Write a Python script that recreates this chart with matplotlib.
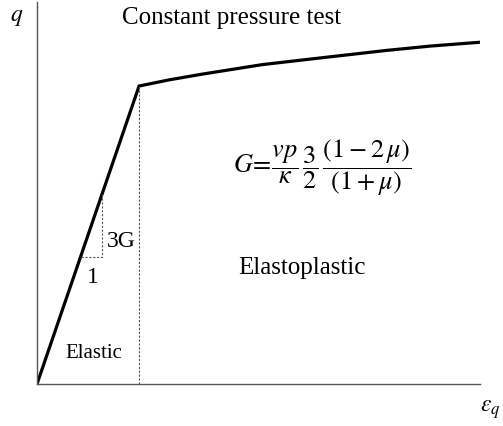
import matplotlib.pyplot as plt
import numpy as np

# stress path: shear strain vs deviatoric stress (normalised to the yield point)
eps_q = [0.0, 1.0, 1.30, 1.62, 2.21, 2.82, 3.41, 3.85, 4.34]
q = [0.0, 1.0, 1.021, 1.040, 1.072, 1.096, 1.119, 1.134, 1.147]

# slope triangle on the elastic branch
tri_eps = [0.43, 0.64, 0.64]
tri_q = [0.426, 0.426, 0.64]

plt.rcParams['font.family'] = ['Liberation Serif', 'DejaVu Serif']
plt.rcParams['mathtext.fontset'] = 'stix'

fig = plt.figure(figsize=(5.03, 4.27), dpi=100)
ax = fig.add_axes([37/503, 42/427, 443/503, 382/427])

ax.plot(eps_q, q, color='black', lw=2.3, solid_joinstyle='miter')
ax.plot([eps_q[1], eps_q[1]], [0, q[1]], color='#555555', lw=0.8, ls=(0, (2, 1.5)))
ax.plot(tri_eps, tri_q, color='#555555', lw=0.8, ls=(0, (2, 1.5)))

ax.set_xlim(0, 4.34)
ax.set_ylim(0, 1.282)
ax.set_xticks([])
ax.set_yticks([])
for s in ['top', 'right']:
    ax.spines[s].set_visible(False)
for s in ['left', 'bottom']:
    ax.spines[s].set_color('#555555')
    ax.spines[s].set_linewidth(1.0)

def px(x, y):
    return x/503, 1 - y/427

fig.text(*px(17, 17), r'$q$', fontsize=17, ha='center', va='center')
fig.text(*px(490, 410), r'$\varepsilon_q$', fontsize=17, ha='center', va='center')
fig.text(*px(232, 18), 'Constant pressure test', fontsize=18, ha='center', va='center')
fig.text(*px(322, 168), r'$G\!=\!\dfrac{vp}{\kappa}\,\dfrac{3}{2}\,\dfrac{(1-2\,\mu)}{(1+\mu)}$',
         fontsize=19, ha='center', va='center')
fig.text(*px(302, 268), 'Elastoplastic', fontsize=18, ha='center', va='center')
fig.text(*px(94, 353), 'Elastic', fontsize=15, ha='center', va='center')
fig.text(*px(121, 242), '3G', fontsize=17, ha='center', va='center')
fig.text(*px(93, 278), '1', fontsize=17, ha='center', va='center')

fig.savefig('out.png', dpi=100)
